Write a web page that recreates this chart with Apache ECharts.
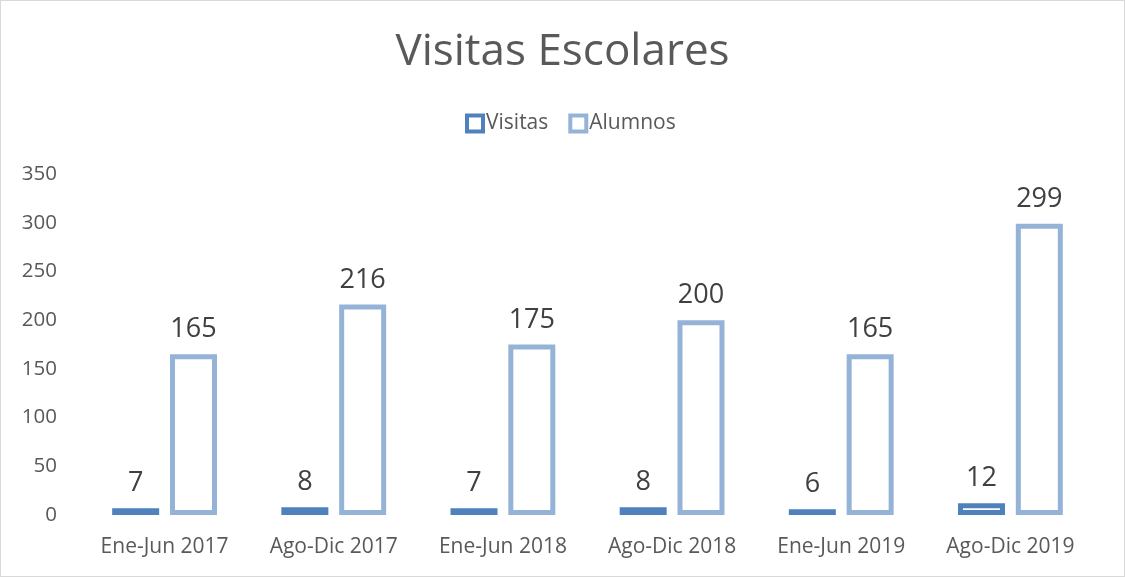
<!DOCTYPE html>
<html><head><meta charset="utf-8">
<script src="https://cdn.jsdelivr.net/npm/echarts@6/dist/echarts.min.js"></script>
<style>html,body{margin:0;padding:0;background:#fff}#c{width:1125px;height:577px;box-sizing:border-box;border:1px solid #d9d9d9}</style>
</head><body><div id="c"></div>
<script>
const categories = ['Ene-Jun 2017','Ago-Dic 2017','Ene-Jun 2018','Ago-Dic 2018','Ene-Jun 2019','Ago-Dic 2019'];
const visitas = [7, 8, 7, 8, 6, 12];
const alumnos = [165, 216, 175, 200, 165, 299];
const yTicks = {min: 0, max: 350, interval: 50};

const font = 'Open Sans';
const chart = echarts.init(document.getElementById('c'));
function mk(name, data, color) {
  return {
    name, type: 'bar', data, barWidth: 47, barGap: '23%',
    itemStyle: {color: '#ffffff', borderColor: color, borderWidth: 5},
    label: {show: true, position: 'top', distance: 11, color: '#404040', fontSize: 27, fontFamily: font}
  };
}
chart.setOption({
  animation: false,
  title: {text: 'Visitas Escolares', left: 'center', top: 24,
    textStyle: {fontFamily: font, fontSize: 44, fontWeight: 'normal', color: '#595959'}},
  legend: {top: 107, left: 459, itemWidth: 16, itemHeight: 16, itemGap: 20,
    icon: 'rect', itemStyle: {borderWidth: 4},
    textStyle: {fontFamily: font, fontSize: 21, color: '#595959', padding: [0,0,0,-2]}},
  grid: {left: 79, right: 29, top: 173, bottom: 61, containLabel: false},
  xAxis: {type: 'category', data: categories,
    axisLine: {show: false}, axisTick: {show: false},
    axisLabel: {fontFamily: font, fontSize: 21, color: '#595959', margin: 22}},
  yAxis: {type: 'value', min: yTicks.min, max: yTicks.max, interval: yTicks.interval,
    splitLine: {show: false}, axisLine: {show: false}, axisTick: {show: false},
    axisLabel: {fontFamily: font, fontSize: 20.5, color: '#595959', margin: 23}},
  series: [mk('Visitas', visitas, '#4f81bd'), mk('Alumnos', alumnos, '#95b3d7')]
});
</script></body></html>
